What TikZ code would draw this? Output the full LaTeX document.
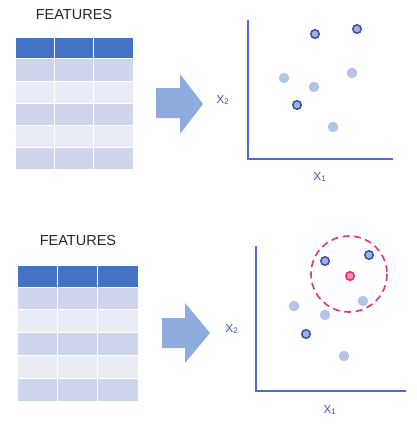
\documentclass[tikz,border=0pt]{standalone}
\usepackage{fontspec}
\setmainfont{Liberation Sans}
\usetikzlibrary{arrows.meta,positioning,calc}

\definecolor{hdrblue}{HTML}{4472C4}
\definecolor{rowdark}{HTML}{CFD5EA}
\definecolor{rowlight}{HTML}{E9EBF5}
\definecolor{arrowblue}{HTML}{8FAADC}
\definecolor{axisblue}{HTML}{5468D4}
\definecolor{dotlight}{HTML}{B4C3E8}
\definecolor{dotring}{HTML}{3F56A8}
\definecolor{dotfill}{HTML}{9FB1DD}
\definecolor{querypink}{HTML}{E8336B}
\definecolor{titlegray}{HTML}{262626}

\begin{document}
\begin{tikzpicture}[x=1pt,y=-1pt,
  cell/.style={draw=white,line width=1pt},
  axis/.style={axisblue,line width=2.6pt},
  ptlight/.style={circle,fill=dotlight,inner sep=0pt,minimum size=10.5pt},
  ptring/.style={circle,fill=dotfill,draw=dotring,line width=1.6pt,inner sep=0pt,minimum size=8.5pt},
  ptquery/.style={circle,fill=querypink!55,draw=querypink,line width=1.6pt,inner sep=0pt,minimum size=8.5pt},
  title/.style={font=\fontsize{14.5}{16}\selectfont,text=titlegray},
  axlabel/.style={font=\fontsize{11.5}{13}\selectfont,text=dotring}]
\useasboundingbox (0,0) rectangle (416,428);
% Upper panel: feature table
\node[title] (feat1) at (74,15) {FEATURES};
\foreach \cx in {15,54.3,93.7}{
  \fill[hdrblue,cell] (\cx,38) rectangle ++(39.3,21);
  \foreach \r/\c in {0/rowdark,1/rowlight,2/rowdark,3/rowlight,4/rowdark}
    \fill[\c,cell] (\cx,59+22*\r) rectangle ++(39.3,22);
}
% Upper panel: arrow
\fill[arrowblue] (156,88) -- (180,88) -- (180,74) -- (203,104) -- (180,134)
  -- (180,118) -- (156,118) -- cycle;
% Upper panel: scatter plot
\coordinate (o1) at (248,159);
\coordinate (ytop1) at (248,20);
\coordinate (xend1) at (393,159);
\draw[axis] (ytop1) -- (o1) -- (xend1);
\node[axlabel] (xlab1) at (320,177) {X\textsubscript{1}};
\node[axlabel] (ylab1) at (223,100) {X\textsubscript{2}};
\node[ptlight] (p1a) at (284,78) {};
\node[ptlight] (p1b) at (314,87) {};
\node[ptlight] (p1c) at (352,73) {};
\node[ptlight] (p1d) at (333,127) {};
\node[ptring] (q1a) at (315,34) {};
\node[ptring] (q1b) at (357,29) {};
\node[ptring] (q1c) at (297,105) {};
% Lower panel: feature table
\node[title] (feat2) at (78,241) {FEATURES};
\foreach \cx in {17,57.3,97.7}{
  \fill[hdrblue,cell] (\cx,265) rectangle ++(40.3,22);
  \foreach \r/\c in {0/rowdark,1/rowlight,2/rowdark,3/rowlight,4/rowdark}
    \fill[\c,cell] (\cx,287+22.8*\r) rectangle ++(40.3,22.8);
}
% Lower panel: arrow
\fill[arrowblue] (162,318) -- (185,318) -- (185,303) -- (210,333) -- (185,363)
  -- (185,348) -- (162,348) -- cycle;
% Lower panel: scatter plot with new point and its neighbourhood
\coordinate (o2) at (256,391);
\coordinate (ytop2) at (256,246);
\coordinate (xend2) at (406,391);
\draw[axis] (ytop2) -- (o2) -- (xend2);
\node[axlabel] (xlab2) at (330,410) {X\textsubscript{1}};
\node[axlabel] (ylab2) at (232,329) {X\textsubscript{2}};
\node[ptlight] (p2a) at (294,306) {};
\node[ptlight] (p2b) at (325,315) {};
\node[ptlight] (p2c) at (363,301) {};
\node[ptlight] (p2d) at (344,356) {};
\node[ptring] (q2a) at (325,261) {};
\node[ptring] (q2b) at (369,255) {};
\node[ptring] (q2c) at (306,334) {};
\node[ptquery] (new) at (350,276) {};
\draw[querypink,line width=1.6pt,dash pattern=on 7pt off 4.5pt] (349,274) circle[radius=38];
\end{tikzpicture}
\end{document}
